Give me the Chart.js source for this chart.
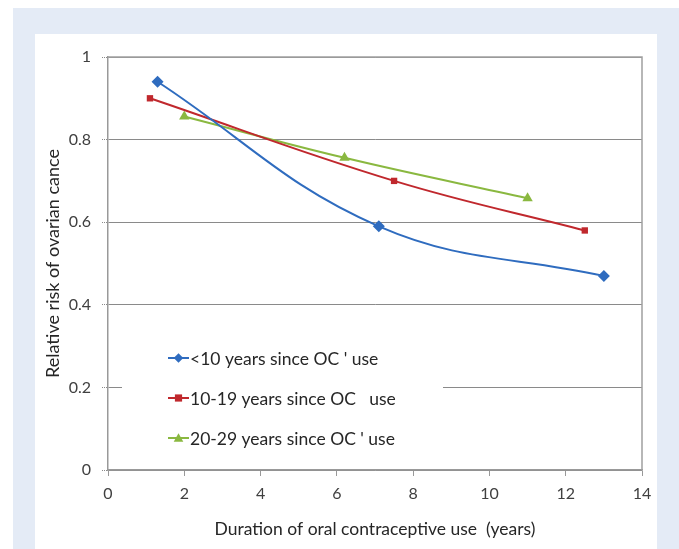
<!DOCTYPE html>
<html>
<head>
<meta charset="utf-8">
<script src="https://cdn.jsdelivr.net/npm/chart.js@4.4.1/dist/chart.umd.min.js"></script>
<style>
  html, body { margin:0; padding:0; background:#ffffff; width:679px; height:549px; overflow:hidden; }
  #outer { position:absolute; left:13px; top:8px; right:0; bottom:0; background:#e4ebf6; }
  #inner { position:absolute; left:35px; top:34px; width:622px; bottom:0; background:#ffffff; }
  #c { position:absolute; left:0; top:0; }
</style>
</head>
<body>
<div id="outer"></div>
<div id="inner"></div>
<canvas id="c" width="679" height="549"></canvas>
<script>
// ---- data ----
const seriesNames = ["<10 years since OC ' use", "10-19 years since OC   use", "20-29 years since OC ' use"];
const lt10X = [1.3, 7.1, 13.0];
const lt10Y = [0.94, 0.59, 0.47];
const y1019X = [1.1, 7.5, 12.5];
const y1019Y = [0.90, 0.70, 0.58];
const y2029X = [2.0, 6.2, 11.0];
const y2029Y = [0.856, 0.756, 0.658];
const xTickLabels = ['0','2','4','6','8','10','12','14'];
const yTickLabels = ['0','0.2','0.4','0.6','0.8','1'];
const xTitle = 'Duration of oral contraceptive use  (years)';
const yTitle = 'Relative risk of ovarian cance';

const colors = ['#2f6cbf', '#c0282d', '#8ab840'];
const styles = ['rectRot', 'rect', 'triangle'];
const radii = [6, 4.5, 6];

function pts(xs, ys) { return xs.map((x, i) => ({x: x, y: ys[i]})); }
const seriesData = [pts(lt10X, lt10Y), pts(y1019X, y1019Y), pts(y2029X, y2029Y)];

const FONT = 'Lato, "Open Sans", sans-serif';

function drawMarker(ctx, style, x, y, r, color) {
  ctx.save();
  ctx.fillStyle = color;
  ctx.beginPath();
  if (style === 'rectRot') {
    ctx.moveTo(x, y - r); ctx.lineTo(x + r, y); ctx.lineTo(x, y + r); ctx.lineTo(x - r, y);
  } else if (style === 'rect') {
    ctx.rect(x - r, y - r, 2 * r, 2 * r);
  } else {
    ctx.moveTo(x, y - r); ctx.lineTo(x + r, y + r * 0.8); ctx.lineTo(x - r, y + r * 0.8);
  }
  ctx.closePath();
  ctx.fill();
  ctx.restore();
}

const framePlugin = {
  id: 'frame',
  beforeDatasetsDraw(chart) {
    const {ctx, chartArea: a} = chart;
    ctx.save();
    ctx.strokeStyle = '#a0a0a0';
    ctx.lineWidth = 1.5;
    ctx.beginPath();
    ctx.moveTo(a.left, a.top); ctx.lineTo(a.right, a.top); ctx.lineTo(a.right, a.bottom);
    ctx.stroke();
    ctx.restore();
  }
};

const legendPlugin = {
  id: 'innerLegend',
  afterDatasetsDraw(chart) {
    const ctx = chart.ctx;
    ctx.save();
    ctx.fillStyle = '#ffffff';
    ctx.fillRect(122, 340, 321, 112);
    const rows = [358, 398, 438];
    chart.data.datasets.forEach((ds, i) => {
      const y = rows[i];
      ctx.strokeStyle = ds.borderColor;
      ctx.lineWidth = 2;
      ctx.beginPath(); ctx.moveTo(168, y); ctx.lineTo(189, y); ctx.stroke();
      drawMarker(ctx, ds.pointStyle, 178.5, y, ds.pointRadius * 0.8, ds.borderColor);
      ctx.fillStyle = '#262626';
      ctx.font = '17.5px ' + FONT;
      ctx.textBaseline = 'middle';
      ctx.textAlign = 'left';
      ctx.fillText(ds.label, 190, y + 1);
    });
    ctx.restore();
  }
};

new Chart(document.getElementById('c'), {
  type: 'line',
  data: {
    datasets: seriesData.map((d, i) => ({
      label: seriesNames[i],
      data: d,
      borderColor: colors[i],
      backgroundColor: colors[i],
      pointStyle: styles[i],
      pointRadius: radii[i],
      pointBorderWidth: 0,
      borderWidth: 2,
      tension: 0.4,
      fill: false
    }))
  },
  options: {
    responsive: false,
    animation: false,
    layout: { padding: { left: 35, top: 57, right: 37, bottom: 0 } },
    plugins: { legend: { display: false }, tooltip: { enabled: false } },
    scales: {
      x: {
        type: 'linear', min: 0, max: 14,
        ticks: { stepSize: 2, color: '#404040', font: { size: 16, family: FONT }, padding: 8,
                 maxRotation: 0,
                 callback: (v, i) => xTickLabels[i] },
        grid: { drawOnChartArea: false, drawTicks: true, tickLength: 6, color: '#999999' },
        border: { display: true, color: '#999999', width: 1.5 },
        title: { display: true, text: xTitle, color: '#262626', font: { size: 17.5, family: FONT }, padding: { top: 0, bottom: 9 } },
        afterFit: (s) => { s.height = 79; }
      },
      y: {
        type: 'linear', min: 0, max: 1,
        ticks: { stepSize: 0.2, color: '#404040', font: { size: 16, family: FONT }, padding: 11,
                 callback: (v, i) => yTickLabels[i] },
        grid: { color: '#8a8a8a', borderDash: [1, 1], tickBorderDash: [1, 1], tickLength: 6, lineWidth: 1 },
        border: { display: true, color: '#999999', width: 1.5 },
        title: { display: true, text: yTitle, color: '#262626', font: { size: 18, family: FONT }, padding: { top: 7, bottom: 0 } },
        afterFit: (s) => { s.width = 73; }
      }
    }
  },
  plugins: [framePlugin, legendPlugin]
});
</script>
</body>
</html>
